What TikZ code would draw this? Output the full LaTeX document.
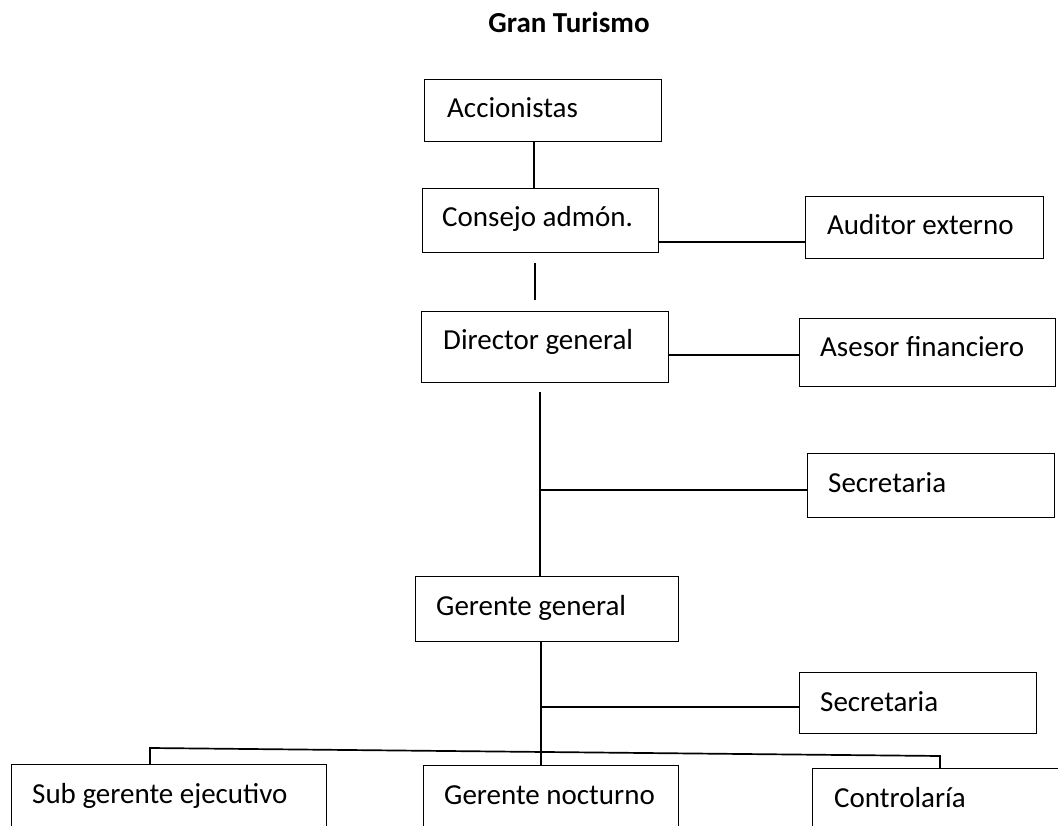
\documentclass[tikz,border=0pt]{standalone}
\usepackage{fontspec}
\setmainfont{Carlito}
\begin{document}
\begin{tikzpicture}[x=1pt,y=-1pt,
  box/.style={draw, line width=1.2pt, rectangle, inner sep=0pt, anchor=north west},
  lbl/.style={anchor=base west, inner sep=0pt, font=\fontsize{29}{34}\selectfont},
  conn/.style={line width=1.7pt}]
\useasboundingbox (0,0) rectangle (1058,826);
\clip (0,0) rectangle (1058,826);
\newcommand\obox[7]{%
  \node[box, minimum width=#4pt, minimum height=#5pt] (#1) at (#2,#3) {};
  \node[lbl] (#1-t) at ([xshift=#7pt,yshift=-39pt]#1.north west) {#6};}
\node[font=\bfseries\fontsize{29}{34}\selectfont, anchor=base, inner sep=0pt] (title) at (569,33) {Gran Turismo};
\obox{acc}{424}{79}{237}{62}{Accionistas}{23}
\obox{cons}{422}{188}{236}{64}{Consejo admón.}{20}
\obox{aud}{805}{196}{238}{62}{Auditor externo}{22}
\obox{dir}{421}{311}{247}{71}{Director general}{22}
\obox{ase}{799}{318}{256}{68}{Asesor financiero}{21}
\obox{sec1}{807}{453}{247}{64}{Secretaria}{21}
\obox{ger}{415}{576}{263}{65}{Gerente general}{21}
\obox{sec2}{799}{672}{237}{61}{Secretaria}{21}
\obox{sub}{11}{764}{315}{100}{Sub gerente ejecutivo}{21}
\obox{noc}{423}{765}{255}{100}{Gerente nocturno}{21}
\obox{con}{812}{768}{300}{100}{Controlaría}{22}
% connectors
\coordinate (a1) at (534,0);
\draw[conn] (a1 |- acc.south) -- (a1 |- cons.north);
\coordinate (h1) at (0,242);
\draw[conn] (h1 -| cons.east) -- (h1 -| aud.west);
\coordinate (s1) at (535,263);
\coordinate (s2) at (535,300);
\draw[conn] (s1) -- (s2);
\coordinate (h2) at (0,355);
\draw[conn] (h2 -| dir.east) -- (h2 -| ase.west);
\coordinate (d0) at (540,392);
\draw[conn] (d0) -- (d0 |- ger.north);
\coordinate (j1) at (540,490);
\draw[conn] (j1) -- (j1 -| sec1.west);
\coordinate (v) at (541,0);
\draw[conn] (v |- ger.south) -- (v |- noc.north);
\coordinate (j2) at (541,707);
\draw[conn] (j2) -- (j2 -| sec2.west);
\coordinate (b1) at (150,748);
\coordinate (b2) at (940,756);
\draw[conn] (b1 |- sub.north) -- (b1) -- (b2) -- (b2 |- con.north);
\end{tikzpicture}
\end{document}
